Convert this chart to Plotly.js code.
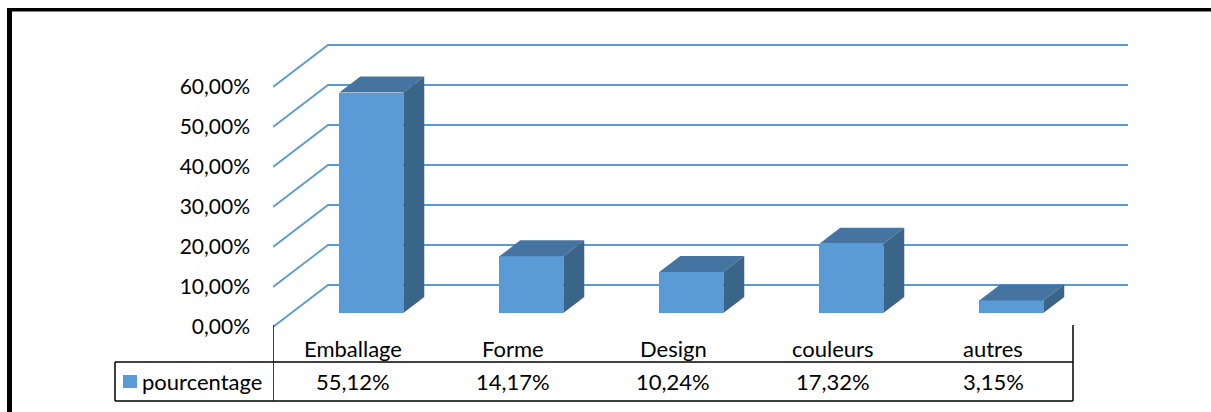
<!DOCTYPE html>
<html>
<head>
<meta charset="utf-8">
<script src="https://cdn.plot.ly/plotly-3.0.1.min.js"></script>
<style>html,body{margin:0;padding:0;background:#fff;}#chart{width:1211px;height:412px;}</style>
</head>
<body>
<div id="chart"></div>
<script>
// ---- data ----
const categories = ["Emballage", "Forme", "Design", "couleurs", "autres"];
const values = [55.12, 14.17, 10.24, 17.32, 3.15];
const seriesName = "pourcentage";
const tickValues = [0, 10, 20, 30, 40, 50, 60];

// ---- helpers ----
const W = 1211, H = 412;
const fmt = v => v.toFixed(2).replace('.', ',') + '%';
const px = x => x / W;               // paper x from pixel
const py = y => (H - y) / H;         // paper y from pixel

// 3D projection constants (axis units)
const depthX = 55 / 160;   // back wall shift in category units
const depthY = 42 / 4;     // back wall shift in % units
const t1 = 1 / 3, t2 = 0.714;  // bar front/back depth fraction
const barW = 0.4;

const colFront = '#5B9BD5', colTop = '#4674A1', colSide = '#3A6488', colGrid = '#5B9BD5';
const FONT = 'Lato, "Open Sans", sans-serif';
const FS = 21, FS_TABLE = 22;

const traces = [];
// front faces (bars)
traces.push({
  type: 'bar',
  x: categories.map((c, i) => i + 0.5 + t1 * depthX),
  y: values,
  base: values.map(() => t1 * depthY),
  width: barW,
  marker: {color: colFront, line: {width: 0}},
  hoverinfo: 'skip',
  showlegend: false
});
const ddx = (t2 - t1) * depthX, ddy = (t2 - t1) * depthY;
values.forEach((v, i) => {
  const xc = i + 0.5 + t1 * depthX;
  const xl = xc - barW / 2, xr = xc + barW / 2;
  const yb = t1 * depthY, yt = v + t1 * depthY;
  traces.push({
    type: 'scatter', mode: 'lines', fill: 'toself', fillcolor: colTop,
    x: [xl, xr, xr + ddx, xl + ddx, xl], y: [yt, yt, yt + ddy, yt + ddy, yt],
    line: {width: 0, color: colTop}, hoverinfo: 'skip', showlegend: false
  });
  traces.push({
    type: 'scatter', mode: 'lines', fill: 'toself', fillcolor: colSide,
    x: [xr, xr + ddx, xr + ddx, xr, xr], y: [yb, yb + ddy, yt + ddy, yt, yb],
    line: {width: 0, color: colSide}, hoverinfo: 'skip', showlegend: false
  });
});

const shapes = [];
// back wall gridlines with diagonal side wall segments
tickValues.forEach(v => {
  shapes.push({
    type: 'path', xref: 'x', yref: 'y', layer: 'below',
    path: `M 0 ${v} L ${depthX} ${v + depthY} L ${categories.length + depthX} ${v + depthY}`,
    line: {color: colGrid, width: 1.8}
  });
});
// data table lines
const nCat = categories.length;
const plotLeft = 273, plotRight = 273 + (nCat + depthX) * 160;
const tableRight = 273 + nCat * 160;
const tl = {color: '#000', width: 1.5};
shapes.push({type: 'line', xref: 'paper', yref: 'paper', x0: px(115), x1: px(tableRight), y0: py(362), y1: py(362), line: tl});
shapes.push({type: 'line', xref: 'paper', yref: 'paper', x0: px(115), x1: px(tableRight), y0: py(401), y1: py(401), line: tl});
shapes.push({type: 'line', xref: 'paper', yref: 'paper', x0: px(115), x1: px(115), y0: py(362), y1: py(401), line: tl});
shapes.push({type: 'line', xref: 'x', yref: 'paper', x0: 0, x1: 0, y0: py(325), y1: py(401), line: tl});
shapes.push({type: 'line', xref: 'x', yref: 'paper', x0: nCat, x1: nCat, y0: py(325), y1: py(401), line: tl});
// legend key
shapes.push({type: 'rect', xref: 'paper', yref: 'paper', x0: px(123), x1: px(137), y0: py(388), y1: py(375),
  fillcolor: colFront, line: {width: 0}});
// outer frame
shapes.push({type: 'line', xref: 'paper', yref: 'paper', x0: px(9.5), x1: px(9.5), y0: py(8), y1: py(420), line: {color: '#000', width: 5}});
shapes.push({type: 'line', xref: 'paper', yref: 'paper', x0: px(7), x1: px(1220), y0: py(9.8), y1: py(9.8), line: {color: '#000', width: 3.5}});

const annotations = [];
categories.forEach((c, i) => {
  annotations.push({xref: 'x', yref: 'paper', x: i + 0.5, y: py(348), text: c, showarrow: false,
    xanchor: 'center', yanchor: 'middle', font: {family: FONT, size: FS_TABLE, color: '#000'}});
  annotations.push({xref: 'x', yref: 'paper', x: i + 0.5, y: py(381), text: fmt(values[i]), showarrow: false,
    xanchor: 'center', yanchor: 'middle', font: {family: FONT, size: FS_TABLE, color: '#000'}});
});
annotations.push({xref: 'paper', yref: 'paper', x: px(140), y: py(381), text: seriesName, showarrow: false,
  xanchor: 'left', yanchor: 'middle', font: {family: FONT, size: FS_TABLE, color: '#000'}});

const yBottom = 327, yTop = 40;

const layout = {
  width: W, height: H,
  margin: {l: 0, r: 0, t: 0, b: 0},
  paper_bgcolor: '#fff', plot_bgcolor: 'rgba(0,0,0,0)',
  showlegend: false,
  xaxis: {domain: [px(plotLeft), px(plotRight)], range: [0, nCat + depthX], showgrid: false, zeroline: false,
    showticklabels: false, ticks: '', showline: false, fixedrange: true},
  yaxis: {domain: [py(yBottom), py(yTop)], range: [0, (yBottom - yTop) / 4], showgrid: false, zeroline: false,
    showline: false, tickvals: tickValues, ticktext: tickValues.map(fmt), ticks: '', ticklabelstandoff: 22,
    tickfont: {family: FONT, size: FS, color: '#000'}, fixedrange: true},
  shapes: shapes,
  annotations: annotations,
  bargap: 0
};

Plotly.newPlot('chart', traces, layout, {displayModeBar: false, staticPlot: true});
</script>
</body>
</html>
